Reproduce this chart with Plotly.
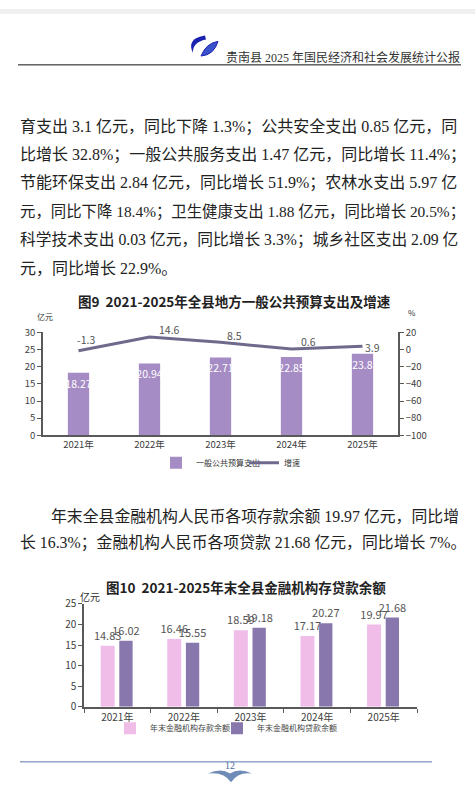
import plotly.graph_objects as go

W, H = 475, 802
def X(px): return px / W
def Y(py): return 1 - py / H

# ---------------- data ----------------
years = ["2021年", "2022年", "2023年", "2024年", "2025年"]
budget_exp = [18.27, 20.94, 22.71, 22.85, 23.8]      # 亿元
growth_rate = [-1.3, 14.6, 8.5, 0.6, 3.9]           # %
deposits = [14.83, 16.46, 18.59, 17.17, 19.97]       # 亿元
loans = [16.02, 15.55, 19.18, 20.27, 21.68]          # 亿元

para1 = [
    "育支出 3.1 亿元，同比下降 1.3%；公共安全支出 0.85 亿元，同",
    "比增长 32.8%；一般公共服务支出 1.47 亿元，同比增长 11.4%；",
    "节能环保支出 2.84 亿元，同比增长 51.9%；农林水支出 5.97 亿",
    "元，同比下降 18.4%；卫生健康支出 1.88 亿元，同比增长 20.5%；",
    "科学技术支出 0.03 亿元，同比增长 3.3%；城乡社区支出 2.09 亿",
    "元，同比增长 22.9%。",
]
para2 = [
    "年末全县金融机构人民币各项存款余额 19.97 亿元，同比增",
    "长 16.3%；金融机构人民币各项贷款 21.68 亿元，同比增长 7%。",
]

SERIF = "Liberation Serif, Noto Sans CJK SC"
SANS = "Noto Sans CJK SC, Liberation Sans"
AX = "#595959"

fig = go.Figure()

# ---- chart 1 ----
fig.add_trace(go.Bar(
    x=years, y=budget_exp, name="一般公共预算支出", width=0.30,
    marker=dict(color="#a68cc4", line=dict(width=0)),
    text=budget_exp, texttemplate="%{y}", textposition="inside", textangle=0,
    constraintext="none", insidetextanchor="end",
    textfont=dict(color="white", size=10.5, family=SANS),
    xaxis="x", yaxis="y", legend="legend"))
fig.add_trace(go.Scatter(
    x=years, y=growth_rate, name="增速", mode="lines",
    line=dict(color="#6e6a8c", width=3),
    xaxis="x", yaxis="y2", legend="legend3", cliponaxis=False))

# ---- chart 2 ----
fig.add_trace(go.Bar(
    x=years, y=deposits, name="年末金融机构存款余额", width=0.21, offset=-0.25,
    marker=dict(color="#efbde8", line=dict(width=0)),
    text=deposits, texttemplate="%{y}", textposition="outside", constraintext="none",
    textfont=dict(color="#555555", size=11, family=SANS), cliponaxis=False,
    xaxis="x2", yaxis="y3", legend="legend2"))
fig.add_trace(go.Bar(
    x=years, y=loans, name="年末金融机构贷款余额", width=0.20, offset=0.03,
    marker=dict(color="#8877ad", line=dict(width=0)),
    text=loans, texttemplate="%{y}", textposition="outside", constraintext="none",
    textfont=dict(color="#555555", size=11, family=SANS), cliponaxis=False,
    xaxis="x2", yaxis="y3", legend="legend4"))

tickf = dict(size=9.5, color="#404040", family=SANS)
tickf2 = dict(size=10, color="#404040", family=SANS)

annotations = []
def txt(s, x, y, size, color="#222222", family=SERIF, xanchor="left", bold=False):
    if bold:
        s = "<b>" + s + "</b>"
    annotations.append(dict(text=s, x=X(x), y=Y(y), xref="paper", yref="paper",
                            xanchor=xanchor, yanchor="middle", showarrow=False,
                            align=xanchor if xanchor != "center" else "center",
                            borderpad=0,
                            font=dict(size=size, color=color, family=family)))

# growth-rate labels (placed at the data points via the axes, with small pixel offsets)
label_shift = [(7, 11), (20, 8), (14, 7), (17, 8), (10, -1)]
for yr, v, (dx, dy) in zip(years, growth_rate, label_shift):
    annotations.append(dict(text=str(v), x=yr, y=v, xref="x", yref="y2",
                            xshift=dx, yshift=dy, showarrow=False, borderpad=0,
                            font=dict(size=10.5, color="#555555", family=SANS)))

# header
txt("贵南县 2025 年国民经济和社会发展统计公报", 461, 49, 12, "#333333", SERIF, "right")
# paragraphs
para1_sizes = [16, 16, 16, 15.4, 15.75, 16]
for i, line in enumerate(para1):
    txt(line, 19, 120 + i * 29, para1_sizes[i])
txt(para2[0], 50, 517, 15.85)
txt(para2[1], 19, 545, 15.85)
# chart titles and units
txt("图9  2021-2025年全县地方一般公共预算支出及增速", 234, 298, 13.5, "#222222", SANS, "center", True)
txt("亿元", 45, 314, 8, "#333333", SANS, "center")
txt("%", 412, 310, 8, "#333333", SANS, "center")
txt("图10  2021-2025年末全县金融机构存贷款余额", 246, 590, 13.5, "#222222", SANS, "center", True)
txt("亿元", 90, 599, 10, "#333333", SANS, "center")
# footer page number
txt("12", 230, 772, 10, "#4a6aa0", SERIF, "center")

def path(points):
    s = "M " + " ".join(
        ("%s %.5f,%.5f" % (c, X(a), Y(b))) if c else ("%.5f,%.5f" % (X(a), Y(b)))
        for c, a, b in points)
    return s + " Z"

shapes = [
    dict(type="rect", xref="paper", yref="paper", x0=0, x1=1, y0=Y(5), y1=1,
         fillcolor="#f0f0f0", line=dict(width=0), layer="below"),
    dict(type="line", xref="paper", yref="paper", x0=X(18), x1=X(461), y0=Y(57), y1=Y(57),
         line=dict(color="#111111", width=1)),
    dict(type="line", xref="paper", yref="paper", x0=X(20), x1=X(432), y0=Y(768), y1=Y(768),
         line=dict(color="#93a6c9", width=1.5)),
    # logo swirl
    dict(type="path", xref="paper", yref="paper", fillcolor="#1a22b0", line=dict(width=0),
         path=path([("", 205, 27), ("Q", 186, 30), ("", 193, 45),
                    ("Q", 192, 34), ("", 206, 31)])),
    dict(type="path", xref="paper", yref="paper", fillcolor="#3a52cc",
         line=dict(color="#1a22b0", width=1),
         path=path([("", 201, 48), ("Q", 214, 47), ("", 218, 33),
                    ("Q", 206, 35), ("", 201, 48)])),
    # footer ornament
    dict(type="path", xref="paper", yref="paper", fillcolor="#6f8bb8", line=dict(width=0),
         path=path([("", 208, 780), ("Q", 221, 774), ("", 230, 780),
                    ("Q", 239, 774), ("", 252, 780), ("Q", 238, 778), ("", 231, 789),
                    ("Q", 224, 778), ("", 208, 780)])),
]

leg_common = dict(orientation="h", xanchor="left", yanchor="middle",
                  bgcolor="rgba(0,0,0,0)", itemwidth=30)

fig.update_layout(
    width=W, height=H, margin=dict(l=0, r=0, t=0, b=0),
    paper_bgcolor="white", plot_bgcolor="rgba(0,0,0,0)",
    barmode="overlay", showlegend=True,
    xaxis=dict(domain=[X(43), X(398)], anchor="y", showline=True, linecolor=AX, linewidth=1.5,
               ticks="", tickfont=tickf, showgrid=False, zeroline=False),
    yaxis=dict(domain=[Y(435), Y(330)], anchor="x", range=[0, 30], dtick=5, showline=True,
               linecolor=AX, linewidth=1.5, ticks="outside", ticklen=4, tickcolor=AX,
               tickfont=tickf, showgrid=False, zeroline=False),
    yaxis2=dict(overlaying="y", side="right", anchor="x", range=[-100, 20], dtick=20,
                showline=True, linecolor=AX, linewidth=1.5, ticks="outside", ticklen=4,
                tickcolor=AX, tickfont=tickf, showgrid=False, zeroline=False),
    xaxis2=dict(domain=[X(84), X(417)], anchor="y3", showline=True, linecolor=AX, linewidth=1.5,
                ticks="outside", tickson="boundaries", ticklen=4, tickcolor=AX,
                tickfont=tickf2, showgrid=False, zeroline=False),
    yaxis3=dict(domain=[Y(712), Y(607)], anchor="x2", range=[0, 25], dtick=5, showline=True,
                linecolor=AX, linewidth=1.5, ticks="outside", ticklen=4, tickcolor=AX,
                tickfont=tickf2, showgrid=False, zeroline=False),
    legend=dict(x=X(156), y=Y(463), font=dict(size=8, color="#333333", family=SANS), **leg_common),
    legend3=dict(x=X(244), y=Y(463), font=dict(size=8, color="#333333", family=SANS), **leg_common),
    legend2=dict(x=X(110), y=Y(734), font=dict(size=8, color="#444444", family=SERIF), **leg_common),
    legend4=dict(x=X(217), y=Y(734), font=dict(size=8, color="#444444", family=SERIF), **leg_common),
    annotations=annotations, shapes=shapes,
)

fig.write_html("out.html", config={"displayModeBar": False},
               post_script="document.body.style.margin='0';document.body.style.overflow='hidden';")
